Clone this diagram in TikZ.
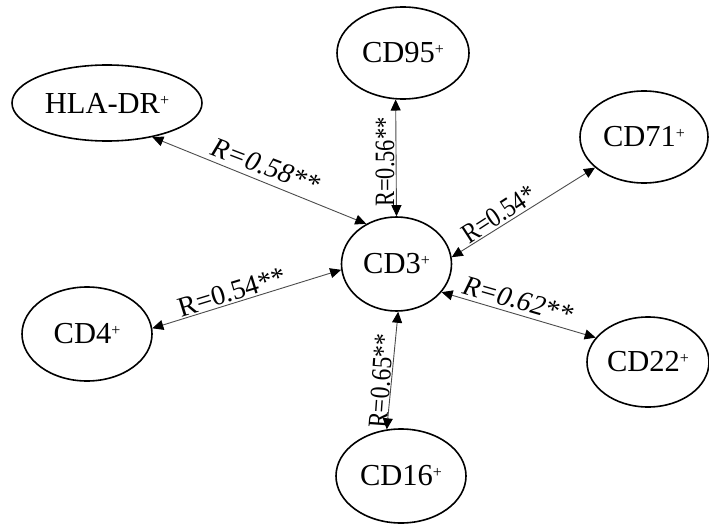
\documentclass[tikz,border=0pt]{standalone}
\usepackage{fontspec}
\setmainfont{Liberation Serif}
\usetikzlibrary{shapes.geometric,arrows.meta}
\newcommand{\cdplus}{\raisebox{8pt}{\fontsize{16}{16}\selectfont +}}
\tikzset{
  cell/.style={ellipse, draw=black, line width=1.6pt, inner sep=0pt,
    font=\fontsize{30.5}{32}\selectfont},
  link/.style={draw=black!70, line width=0.9pt,
    {Triangle[length=11pt,width=10pt,color=black]}-{Triangle[length=11pt,width=10pt,color=black]}},
  rlabel/.style={font=\fontsize{28}{30}\selectfont, inner sep=0pt},
  rlabelit/.style={font=\fontsize{28}{30}\selectfont\itshape, inner sep=0pt}
}
\begin{document}
\begin{tikzpicture}[x=1pt,y=-1pt]
\useasboundingbox (0,0) rectangle (709,524);
\fill[white] (0,0) rectangle (709,524);

\node[cell, minimum width=110pt, minimum height=94pt] (cd3) at (396.5,264) {CD3\cdplus};
\node[cell, minimum width=132pt, minimum height=92pt] (cd95) at (403,53) {CD95\cdplus};
\node[cell, minimum width=190pt, minimum height=76pt] (hla) at (107,103) {HLA-DR\cdplus};
\node[cell, minimum width=128pt, minimum height=92pt] (cd71) at (644,137) {CD71\cdplus};
\node[cell, minimum width=130pt, minimum height=94pt] (cd4) at (87,334) {CD4\cdplus};
\node[cell, minimum width=122pt, minimum height=90pt] (cd22) at (648,362) {CD22\cdplus};
\node[cell, minimum width=130pt, minimum height=94pt] (cd16) at (401,476) {CD16\cdplus};

\draw[link] (hla.-37) -- (cd3.127);
\draw[link] (cd95.261) -- (cd3.90);
\draw[link] (cd3.7) -- (cd71.212);
\draw[link] (cd4.5) -- (cd3.186);
\draw[link] (cd3.-32) -- (cd22.155);
\draw[link] (cd3.-88) -- (cd16.107);

\node[rlabelit, rotate=-21] (l58) at (266,166) {R=0.58**};
\node[rlabel, rotate=90, xscale=0.8] (l56) at (385,162) {R=0.56**};
\node[rlabel, rotate=33, xscale=0.85] (l54a) at (499,214) {R=0.54*};
\node[rlabel, rotate=17] (l54b) at (232,292) {R=0.54**};
\node[rlabelit, rotate=-16] (l62) at (518,300) {R=0.62**};
\node[rlabel, rotate=86, xscale=0.85] (l65) at (381,381) {R=0.65**};
\end{tikzpicture}
\end{document}
